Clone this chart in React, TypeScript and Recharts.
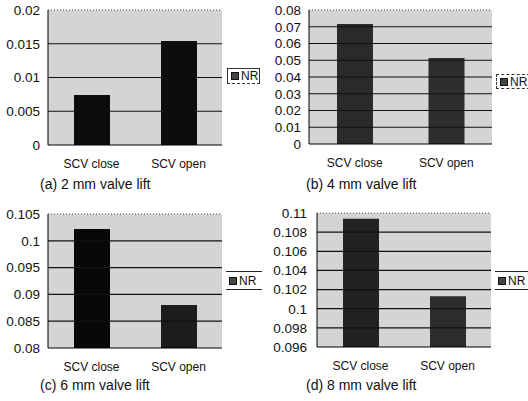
import { Bar, BarChart, CartesianGrid, Cell, ReferenceLine, XAxis, YAxis } from "recharts";

const categories = ["SCV close", "SCV open"];

const lift2 = [0.0074, 0.0154];
const lift4 = [0.0716, 0.0513];
const lift6 = [0.1022, 0.088];
const lift8 = [0.1094, 0.1013];

const ticks2 = [0, 0.005, 0.01, 0.015, 0.02];
const ticks4 = [0, 0.01, 0.02, 0.03, 0.04, 0.05, 0.06, 0.07, 0.08];
const ticks6 = [0.08, 0.085, 0.09, 0.095, 0.1, 0.105];
const ticks8 = [0.096, 0.098, 0.1, 0.102, 0.104, 0.106, 0.108, 0.11];

const captions = ["(a) 2 mm valve lift", "(b) 4 mm valve lift", "(c) 6 mm valve lift", "(d) 8 mm valve lift"];

const FONT = '"Liberation Sans", Arial, Helvetica, sans-serif';
const PLOT_BG = "#d4d4d4";
const GRID = "#111";

const fmt = (v: number) => String(parseFloat(v.toFixed(4)));

type PanelProps = {
  values: number[];
  ticks: number[];
  colors: string[];
  width: number;
  height: number;
  margin: { top: number; right: number; left: number; bottom: number };
  yWidth: number;
  tickMargin: number;
};

function Panel({ values, ticks, colors, width, height, margin, yWidth, tickMargin }: PanelProps) {
  const data = categories.map((name, i) => ({ name, NR: values[i] }));
  const inner = ticks.slice(1, -1);
  const top = ticks[ticks.length - 1];
  return (
    <BarChart width={width} height={height} data={data} margin={margin} barSize={36}>
      <CartesianGrid fill={PLOT_BG} stroke="none" />
      {inner.map((t) => (
        <ReferenceLine key={t} y={t} stroke={GRID} strokeWidth={1.2} />
      ))}
      <ReferenceLine y={top} stroke="#444" strokeDasharray="1 2" />
      <XAxis
        dataKey="name"
        height={30}
        tickLine={false}
        axisLine={{ stroke: "#000" }}
        tickMargin={8}
        tick={{ fill: "#111", fontSize: 12, fontFamily: FONT }}
      />
      <YAxis
        width={yWidth}
        domain={[ticks[0], top]}
        ticks={ticks}
        interval={0}
        tickLine={false}
        axisLine={{ stroke: "#000" }}
        tickMargin={tickMargin}
        tickFormatter={fmt}
        tick={{ fill: "#111", fontSize: 13.5, fontFamily: FONT }}
      />
      <Bar dataKey="NR" isAnimationActive={false}>
        {data.map((_, i) => (
          <Cell key={i} fill={colors[i]} />
        ))}
      </Bar>
    </BarChart>
  );
}

function LegendBox({ left, top, w, h, boxed }: { left: number; top: number; w: number; h: number; boxed: "box" | "dashed" | "lines" }) {
  const border =
    boxed === "lines"
      ? { borderTop: "1px solid #222", borderBottom: "1px solid #222" }
      : boxed === "dashed"
      ? { border: "1px dashed #333" }
      : { border: "1px solid #333", borderBottomStyle: "dashed" as const };
  return (
    <div
      style={{
        position: "absolute",
        left,
        top,
        width: w,
        height: h,
        boxSizing: "border-box",
        display: "flex",
        alignItems: "center",
        gap: 2,
        paddingLeft: 3,
        fontFamily: FONT,
        fontSize: 12,
        color: "#111",
        ...border,
      }}
    >
      <span style={{ width: 6, height: 6, background: "#444", border: "1px solid #111", display: "inline-block" }} />
      <span>NR</span>
    </div>
  );
}

function Caption({ left, top, text }: { left: number; top: number; text: string }) {
  return (
    <div style={{ position: "absolute", left, top, fontFamily: FONT, fontSize: 14, color: "#111", whiteSpace: "nowrap" }}>
      {text}
    </div>
  );
}

export default function App() {
  return (
    <div style={{ position: "relative", width: 528, height: 401, background: "#fff", overflow: "hidden" }}>
      <style>{"body{margin:0}"}</style>
      <div style={{ position: "absolute", left: 0, top: 0 }}>
        <Panel
          values={lift2}
          ticks={ticks2}
          colors={["#0c0c0c", "#0c0c0c"]}
          width={264}
          height={200}
          margin={{ top: 10, right: 42, left: 0, bottom: 25 }}
          yWidth={48}
          tickMargin={2}
        />
      </div>
      <div style={{ position: "absolute", left: 264, top: 0 }}>
        <Panel
          values={lift4}
          ticks={ticks4}
          colors={["#2a2a2a", "#2e2e2e"]}
          width={264}
          height={200}
          margin={{ top: 10, right: 36, left: 0, bottom: 26 }}
          yWidth={45}
          tickMargin={2}
        />
      </div>
      <div style={{ position: "absolute", left: 0, top: 200 }}>
        <Panel
          values={lift6}
          ticks={ticks6}
          colors={["#080808", "#1c1c1c"]}
          width={264}
          height={201}
          margin={{ top: 14, right: 42, left: 0, bottom: 23 }}
          yWidth={48}
          tickMargin={2}
        />
      </div>
      <div style={{ position: "absolute", left: 264, top: 200 }}>
        <Panel
          values={lift8}
          ticks={ticks8}
          colors={["#222", "#2c2c2c"]}
          width={264}
          height={201}
          margin={{ top: 13, right: 37, left: 0, bottom: 24 }}
          yWidth={53}
          tickMargin={4}
        />
      </div>

      <LegendBox left={227} top={68} w={33} h={16} boxed="box" />
      <LegendBox left={496} top={74} w={34} h={15} boxed="dashed" />
      <LegendBox left={226} top={271} w={36} h={19} boxed="lines" />
      <LegendBox left={495} top={271} w={35} h={19} boxed="lines" />

      <Caption left={40} top={176} text={captions[0]} />
      <Caption left={306} top={176} text={captions[1]} />
      <Caption left={40} top={377} text={captions[2]} />
      <Caption left={306} top={377} text={captions[3]} />
    </div>
  );
}
